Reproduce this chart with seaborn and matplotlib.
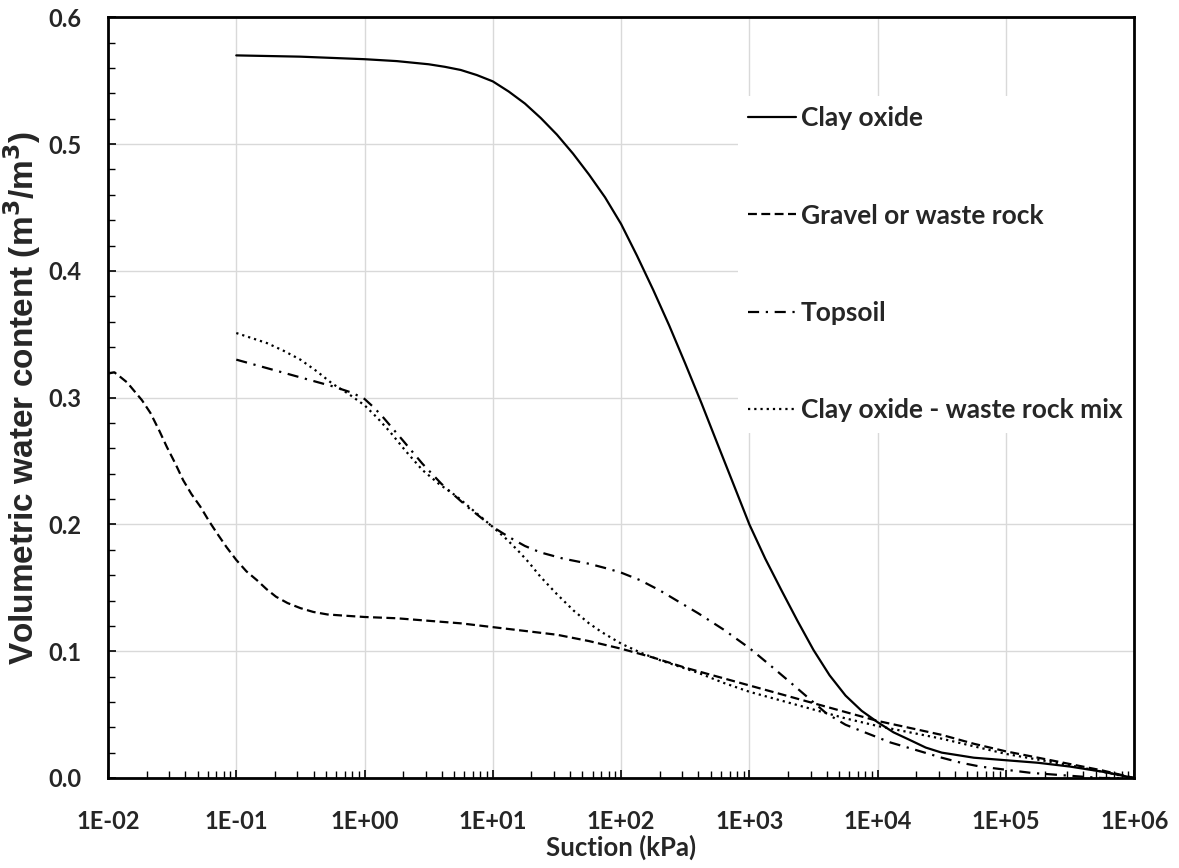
import numpy as np
import pandas as pd
import matplotlib
matplotlib.use("Agg")
import matplotlib.pyplot as plt
import matplotlib.ticker as mticker
import seaborn as sns

# Soil water characteristic curves
clay_suction = [0.1, 0.316, 1, 1.78, 3.16, 4.22, 5.62, 7.5, 10, 13.3, 17.8, 23.7, 31.6,
                42.2, 56.2, 75, 100, 133, 178, 237, 316, 422, 562, 750, 1000, 1330,
                1780, 2370, 3160, 4220, 5620, 7500, 10000, 13300, 17800, 23700, 31600,
                42200, 56200, 100000, 178000, 316000, 562000, 1000000]
clay_theta = [0.570, 0.569, 0.567, 0.5655, 0.563, 0.561, 0.5585, 0.5545, 0.5495, 0.5415,
              0.532, 0.5205, 0.5075, 0.4925, 0.476, 0.458, 0.437, 0.412, 0.385, 0.357,
              0.327, 0.296, 0.264, 0.232, 0.200, 0.173, 0.148, 0.124, 0.101, 0.081,
              0.065, 0.053, 0.044, 0.036, 0.030, 0.024, 0.020, 0.018, 0.016, 0.014,
              0.012, 0.009, 0.005, 0.0]

gravel_suction = [0.01, 0.0112, 0.0126, 0.0141, 0.0158, 0.0184, 0.0214, 0.0251, 0.0288,
                  0.0335, 0.0385, 0.0447, 0.0525, 0.061, 0.0708, 0.0841, 0.1, 0.12,
                  0.145, 0.172, 0.204, 0.251, 0.316, 0.398, 0.513, 0.708, 1, 1.78, 3.16,
                  5.62, 10, 17.8, 31.6, 56.2, 100, 178, 316, 562, 1000, 1780, 3160, 5620,
                  10000, 17800, 31600, 56200, 100000, 178000, 316000, 562000, 1000000]
gravel_theta = [0.319, 0.320, 0.316, 0.312, 0.306, 0.298, 0.288, 0.274, 0.261, 0.248,
                0.235, 0.224, 0.214, 0.203, 0.193, 0.182, 0.172, 0.163, 0.156, 0.149,
                0.143, 0.138, 0.134, 0.131, 0.129, 0.128, 0.127, 0.126, 0.124, 0.122,
                0.119, 0.116, 0.113, 0.108, 0.102, 0.095, 0.087, 0.080, 0.073, 0.066,
                0.059, 0.052, 0.045, 0.0395, 0.034, 0.027, 0.021, 0.016, 0.011, 0.006,
                0.0]

topsoil_suction = [0.1, 0.178, 0.316, 0.562, 0.794, 1, 1.19, 1.41, 2.0, 2.82, 3.98, 6.31,
                   10, 12.0, 14.5, 17.8, 23.4, 35.5, 56.2, 79.4, 100, 141, 200, 282, 398,
                   631, 1000, 1410, 2000, 2820, 3980, 5620, 7940, 12600, 20000, 31600,
                   44700, 63100, 100000, 158000, 251000, 398000, 562000, 1000000]
topsoil_theta = [0.330, 0.323, 0.316, 0.309, 0.304, 0.299, 0.292, 0.284, 0.266, 0.248,
                 0.232, 0.214, 0.198, 0.193, 0.188, 0.183, 0.178, 0.173, 0.169, 0.165,
                 0.162, 0.156, 0.148, 0.139, 0.130, 0.117, 0.1025, 0.090, 0.077, 0.064,
                 0.051, 0.042, 0.036, 0.028, 0.022, 0.016, 0.012, 0.009, 0.0065, 0.004,
                 0.0025, 0.001, 0.0, 0.0]

mix_suction = [0.1, 0.132, 0.174, 0.234, 0.316, 0.422, 0.562, 0.75, 1, 1.26, 1.58, 2.09,
               2.82, 3.8, 5.25, 7.24, 10, 12.6, 15.5, 19.1, 23.4, 31.6, 42.7, 56.2, 70.8,
               100, 141, 200, 282, 398, 631, 1000, 1780, 3160, 5620, 10000, 17800,
               31600, 56200, 100000, 178000, 316000, 562000, 1000000]
mix_theta = [0.351, 0.347, 0.343, 0.337, 0.330, 0.321, 0.311, 0.303, 0.294, 0.284,
             0.273, 0.258, 0.243, 0.232, 0.222, 0.210, 0.198, 0.189, 0.180, 0.170,
             0.159, 0.145, 0.132, 0.122, 0.115, 0.106, 0.099, 0.093, 0.088, 0.083,
             0.075, 0.068, 0.061, 0.054, 0.047, 0.041, 0.036, 0.031, 0.025, 0.019,
             0.0145, 0.010, 0.005, 0.0]

labels = ["Clay oxide", "Gravel or waste rock", "Topsoil", "Clay oxide - waste rock mix"]
x_ticks = [0.01, 0.1, 1, 10, 100, 1000, 10000, 100000, 1000000]
x_tick_labels = ["1E-02", "1E-01", "1E+00", "1E+01", "1E+02", "1E+03", "1E+04",
                 "1E+05", "1E+06"]

sns.set_style("white")
plt.rcParams['font.family'] = ['Lato', 'DejaVu Sans']
plt.rcParams['font.weight'] = 'bold'

fig = plt.figure(figsize=(11.79, 8.68), dpi=100)
ax = fig.add_axes([0.0916, 0.1037, 0.962 - 0.0916, 0.980 - 0.1037])

series = [
    (clay_suction, clay_theta, labels[0], '-'),
    (gravel_suction, gravel_theta, labels[1], (0, (4, 2))),
    (topsoil_suction, topsoil_theta, labels[2], (0, (5, 3, 1, 3))),
    (mix_suction, mix_theta, labels[3], (0, (1, 1.8))),
]
for x, y, name, ls in series:
    df = pd.DataFrame({'suction': x, 'theta': y})
    sns.lineplot(data=df, x='suction', y='theta', ax=ax, color='black',
                 linewidth=1.6, linestyle=ls, label=name, estimator=None)

ax.set_xscale('log')
ax.set_xlim(0.01, 1e6)
ax.set_ylim(0, 0.6)

ax.set_xticks(x_ticks)
ax.set_xticklabels(x_tick_labels)
ax.xaxis.set_minor_locator(mticker.LogLocator(base=10, subs=np.arange(2, 10), numticks=20))
ax.xaxis.set_minor_formatter(mticker.NullFormatter())
ax.yaxis.set_major_locator(mticker.MultipleLocator(0.1))
ax.yaxis.set_minor_locator(mticker.MultipleLocator(0.02))
ax.yaxis.set_major_formatter(mticker.FormatStrFormatter('%.1f'))

ax.grid(True, which='major', color='#d9d9d9', linewidth=1.0)
ax.set_axisbelow(True)

for s in ax.spines.values():
    s.set_linewidth(2.0)
    s.set_color('black')
    s.set_zorder(6)

ax.tick_params(axis='both', which='both', direction='in', bottom=True, left=True,
               top=False, right=False, color='black')
ax.tick_params(axis='both', which='major', length=6, width=1.2, labelsize=17)
ax.tick_params(axis='both', which='minor', length=5, width=1.0)
ax.tick_params(axis='x', which='major', pad=23)
ax.tick_params(axis='y', which='major', pad=19)

ax.set_xlabel('Suction (kPa)', fontsize=18.5, fontweight='bold', labelpad=1)
ax.set_ylabel('Volumetric water content (m$^\\mathbf{3}$/m$^\\mathbf{3}$)',
              fontsize=24, fontweight='bold', family='Liberation Sans', labelpad=4)

leg = ax.legend(loc='upper left', bbox_to_anchor=(0.6135, 0.897), frameon=True,
                facecolor='white', edgecolor='none', framealpha=1, fancybox=False,
                fontsize=19, labelspacing=2.78, handlelength=1.8, handletextpad=0.2,
                borderpad=0.4, borderaxespad=0)
for t in leg.get_texts():
    t.set_fontweight('bold')

fig.savefig('out.png', dpi=100)
